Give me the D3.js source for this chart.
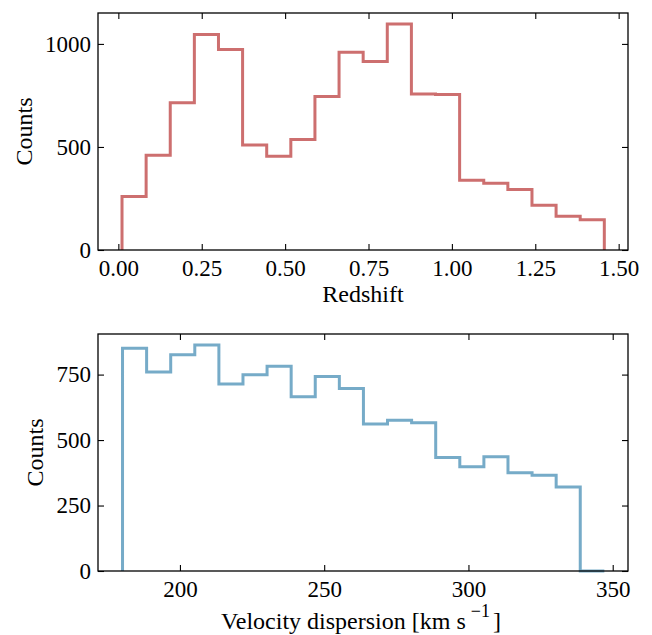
<!DOCTYPE html>
<html>
  <head>
    <meta charset="utf-8">
    <title>Redshift and velocity dispersion histograms</title>
    <script src="https://d3js.org/d3.v7.min.js"></script>
    <style>
      body { margin: 0; background: #fff; }
      svg text { font-family: "Liberation Serif", "Times New Roman", Times, "DejaVu Serif", serif !important; fill: #000; }
      .axis path, .axis line { stroke: #000; }
      .axis text { font-size: 23px; }
      .label { font-size: 24px; }
    </style>
  </head>
  <body>
    <svg class="chart" width="652" height="635"></svg>
    <script>
      // Redshift histogram: bin edges and counts
      const zEdges = [0.011, 0.0833, 0.1556, 0.2279, 0.3002, 0.3725, 0.4448, 0.5171, 0.5894,
        0.6617, 0.734, 0.8063, 0.8786, 0.9509, 1.0232, 1.0955, 1.1678, 1.2401, 1.3124, 1.3847, 1.457];
      const zCounts = [260, 460, 715, 1046, 973, 510, 455, 536, 745, 960,
        915, 1097, 757, 754, 338, 324, 293, 217, 164, 147];

      // Velocity dispersion histogram: bin edges and counts
      const vEdges = [180.1, 188.45, 196.8, 205.15, 213.5, 221.85, 230.2, 238.55, 246.9, 255.25,
        263.6, 271.95, 280.3, 288.65, 297.0, 305.35, 313.7, 322.05, 330.4, 338.75, 347.1];
      const vCounts = [851, 760, 826, 863, 714, 749, 782, 665, 743, 697,
        561, 576, 566, 433, 398, 436, 375, 366, 321, 0];

      const zTicks = [0, 0.25, 0.5, 0.75, 1.0, 1.25, 1.5];
      const zCountTicks = [0, 500, 1000];
      const vTicks = [200, 250, 300, 350];
      const vCountTicks = [0, 250, 500, 750];

      const svg = d3.select(".chart");

      function stepPath(edges, counts, x, y) {
        // open step outline like matplotlib histtype='step'
        const pts = [[x(edges[0]), y(0)]];
        counts.forEach((c, i) => {
          pts.push([x(edges[i]), y(c)]);
          pts.push([x(edges[i + 1]), y(c)]);
        });
        pts.push([x(edges[edges.length - 1]), y(0)]);
        return d3.line()(pts);
      }

      function panel(opts) {
        const { left, top, width, height, xDomain, yDomain, xTicks, yTicks, xFmt,
          edges, counts, color, xLabel } = opts;
        const g = svg.append("g").attr("transform", `translate(${left},${top})`);
        const x = d3.scaleLinear().domain(xDomain).range([0, width]);
        const y = d3.scaleLinear().domain(yDomain).range([height, 0]);

        g.append("path")
          .attr("d", stepPath(edges, counts, x, y))
          .attr("fill", "none")
          .attr("stroke", color)
          .attr("stroke-width", 3)
          .attr("stroke-linejoin", "miter");

        const tl = 6;
        g.append("g").attr("class", "axis")
          .attr("transform", `translate(0,${height})`)
          .call(d3.axisBottom(x).tickValues(xTicks).tickFormat(xFmt).tickSizeInner(-tl).tickSizeOuter(0).tickPadding(9.5))
          .call(a => a.select(".domain").remove());
        g.append("g").attr("class", "axis")
          .call(d3.axisTop(x).tickValues(xTicks).tickFormat("").tickSizeInner(-tl).tickSizeOuter(0))
          .call(a => a.select(".domain").remove());
        g.append("g").attr("class", "axis")
          .call(d3.axisLeft(y).tickValues(yTicks).tickFormat(d3.format("d")).tickSizeInner(-tl).tickSizeOuter(0).tickPadding(7))
          .call(a => a.select(".domain").remove());
        g.append("g").attr("class", "axis")
          .attr("transform", `translate(${width},0)`)
          .call(d3.axisRight(y).tickValues(yTicks).tickFormat("").tickSizeInner(-tl).tickSizeOuter(0))
          .call(a => a.select(".domain").remove());
        g.selectAll(".axis").attr("font-family", null);
        g.selectAll(".axis .tick line").attr("stroke-width", 1.1);

        g.append("rect")
          .attr("width", width).attr("height", height)
          .attr("fill", "none").attr("stroke", "#000").attr("stroke-width", 1.3);

        g.append("text").attr("class", "label")
          .attr("text-anchor", "middle")
          .attr("transform", `translate(${opts.yLabelX},${height / 2}) rotate(-90)`)
          .text("Counts");

        const xl = g.append("text").attr("class", "label")
          .attr("text-anchor", "middle")
          .attr("x", width / 2 + (opts.xLabelDx || 0)).attr("y", height + opts.xLabelDy);
        xLabel(xl);
        return g;
      }

      panel({
        left: 98, top: 13, width: 530, height: 237,
        xDomain: [-0.061, 1.528], yDomain: [0, 1150],
        xTicks: zTicks, yTicks: zCountTicks, xFmt: d3.format(".2f"),
        edges: zEdges, counts: zCounts, color: "#cd6f6f",
        yLabelX: -66.5, xLabelDy: 52,
        xLabel: t => t.text("Redshift")
      });

      panel({
        left: 98, top: 334, width: 530, height: 237,
        xDomain: [171.6, 355.3], yDomain: [0, 905],
        xTicks: vTicks, yTicks: vCountTicks, xFmt: d3.format("d"),
        edges: vEdges, counts: vCounts, color: "#76abc8",
        yLabelX: -55.5, xLabelDy: 58, xLabelDx: -2,
        xLabel: t => {
          t.append("tspan").text("Velocity dispersion [km s");
          t.append("tspan").attr("dx", 5).attr("dy", -12).style("font-size", "18px").text("\u22121");
          t.append("tspan").attr("dx", 3).attr("dy", 12).text("]");
        }
      });
    </script>
  </body>
</html>
